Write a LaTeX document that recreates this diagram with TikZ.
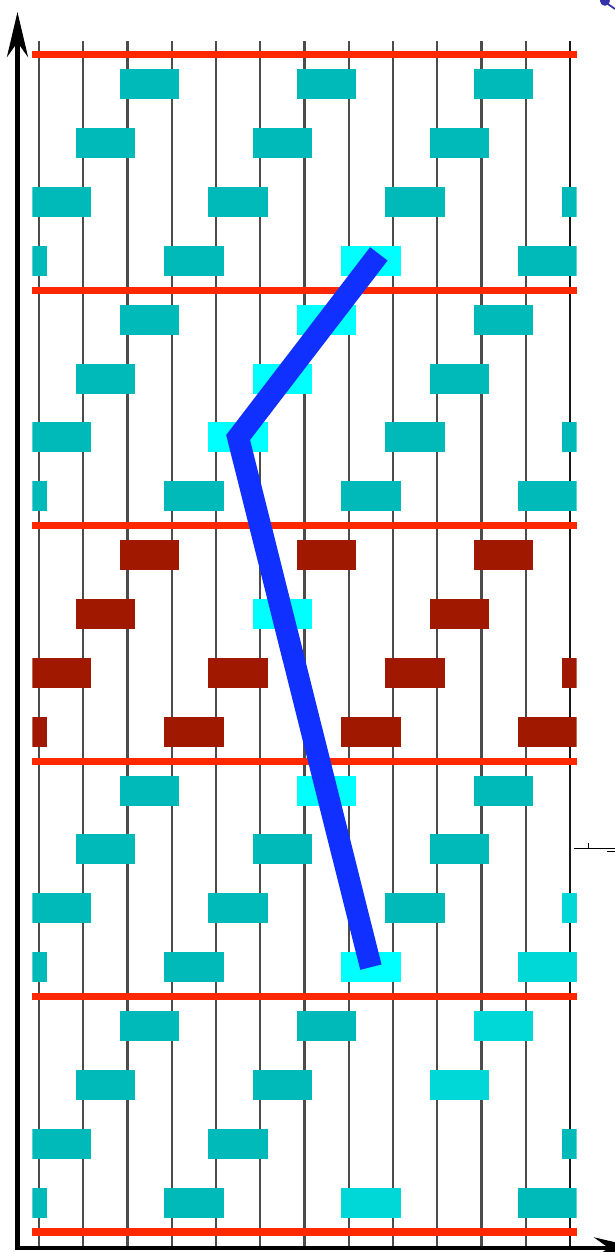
\documentclass[tikz,border=0pt]{standalone}
\usetikzlibrary{arrows.meta}
\definecolor{slotc}{RGB}{0,186,186}
\definecolor{hotc}{RGB}{0,255,255}
\definecolor{litec}{RGB}{0,216,216}
\definecolor{busyc}{RGB}{160,24,0}
\definecolor{epochc}{RGB}{255,40,0}
\definecolor{routec}{RGB}{16,48,255}
\definecolor{markc}{RGB}{50,50,170}
\tikzstyle{slot}=[rectangle,inner sep=0pt,minimum width=1.19cm,minimum height=0.6cm,fill=slotc]
\tikzstyle{busy}=[slot,fill=busyc]
\tikzstyle{hot}=[slot,fill=hotc]
\tikzstyle{lite}=[slot,fill=litec]
\tikzstyle{wire}=[line width=1.2pt,draw=black!70]
\tikzstyle{epoch}=[line width=4pt,draw=epochc]
\tikzstyle{route}=[line width=12.5pt,draw=routec]
\tikzstyle{axis}=[line width=2.7pt,{Stealth[length=9mm,width=4.2mm]}-{Stealth[length=9mm,width=4.2mm]}]

\begin{document}
\begin{tikzpicture}[x=0.885cm,y=1.177cm]
\useasboundingbox (-0.881,-0.34) rectangle (13.017,20.934);
% time lines
\foreach \x in {0,...,11} \draw[wire] (\x,-0.27)--(\x,20.23);
\draw[wire,draw=black!90] (12,-0.27)--(12,20.23);
% slots
\begin{scope}
\clip (-0.15,-1) rectangle (12.15,21);
\foreach \b in {1,3,4} \foreach \r in {0,...,3} \foreach \m in {0,...,3}
  \node[slot] (s-\b-\r-\m) at (2.5-\r+4*\m,4*\b+3.5-\r) {};
\foreach \r in {0,1,3} \foreach \m in {0,...,3}
  \node[slot] (s-0-\r-\m) at (2.5-\r+4*\m,3.5-\r) {};
\foreach \m in {0,1,3} \node[slot] (s-0-2-\m) at (0.5+4*\m,1.5) {};
\foreach \r in {0,...,3} \foreach \m in {0,...,3}
  \node[busy] (s-2-\r-\m) at (2.5-\r+4*\m,11.5-\r) {};
\node[hot] (P1) at (7.5,16.5) {};
\node[hot] (H1) at (6.5,15.5) {};\node[hot] (H2) at (5.5,14.5) {};
\node[hot] (P2) at (4.5,13.5) {};
\node[hot] (H3) at (5.5,10.5) {};\node[hot] (H4) at (6.5,7.5) {};
\node[hot] (P3) at (7.5,4.5) {};
\node[lite] (L1) at (12.5,5.5) {};\node[lite] (L2) at (11.5,4.5) {};
\node[lite] (L3) at (10.5,3.5) {};\node[lite] (L4) at (9.5,2.5) {};
\node[lite] (L5) at (7.5,0.5) {};
\end{scope}
% epochs
\foreach \y in {0,4,...,20} \draw[epoch] (-0.15,\y)--(12.15,\y);
% route
\coordinate (P0) at (7.68,16.62);
\draw[route] (P0)--(P2.center)--(P3.center);
% axes
\coordinate (O) at (-0.486,-0.27);
\coordinate (Yt) at (-0.486,20.73);
\coordinate (Xt) at (13.56,-0.27);
\draw[axis] (Yt)--(O)--(Xt);
% cut-off marks at the border
\draw[line width=0.5pt] (12.09,6.525)--(13.02,6.525);
\draw[line width=0.5pt] (12.41,6.525)--(12.41,6.61);
\draw[line width=0.5pt] (12.84,6.474)--(13.02,6.474);
\draw[markc,line width=1pt] (12.79,20.9)--(13.02,20.78);
\fill[markc] (12.79,20.92) circle (0.1cm);
\end{tikzpicture}
\end{document}
